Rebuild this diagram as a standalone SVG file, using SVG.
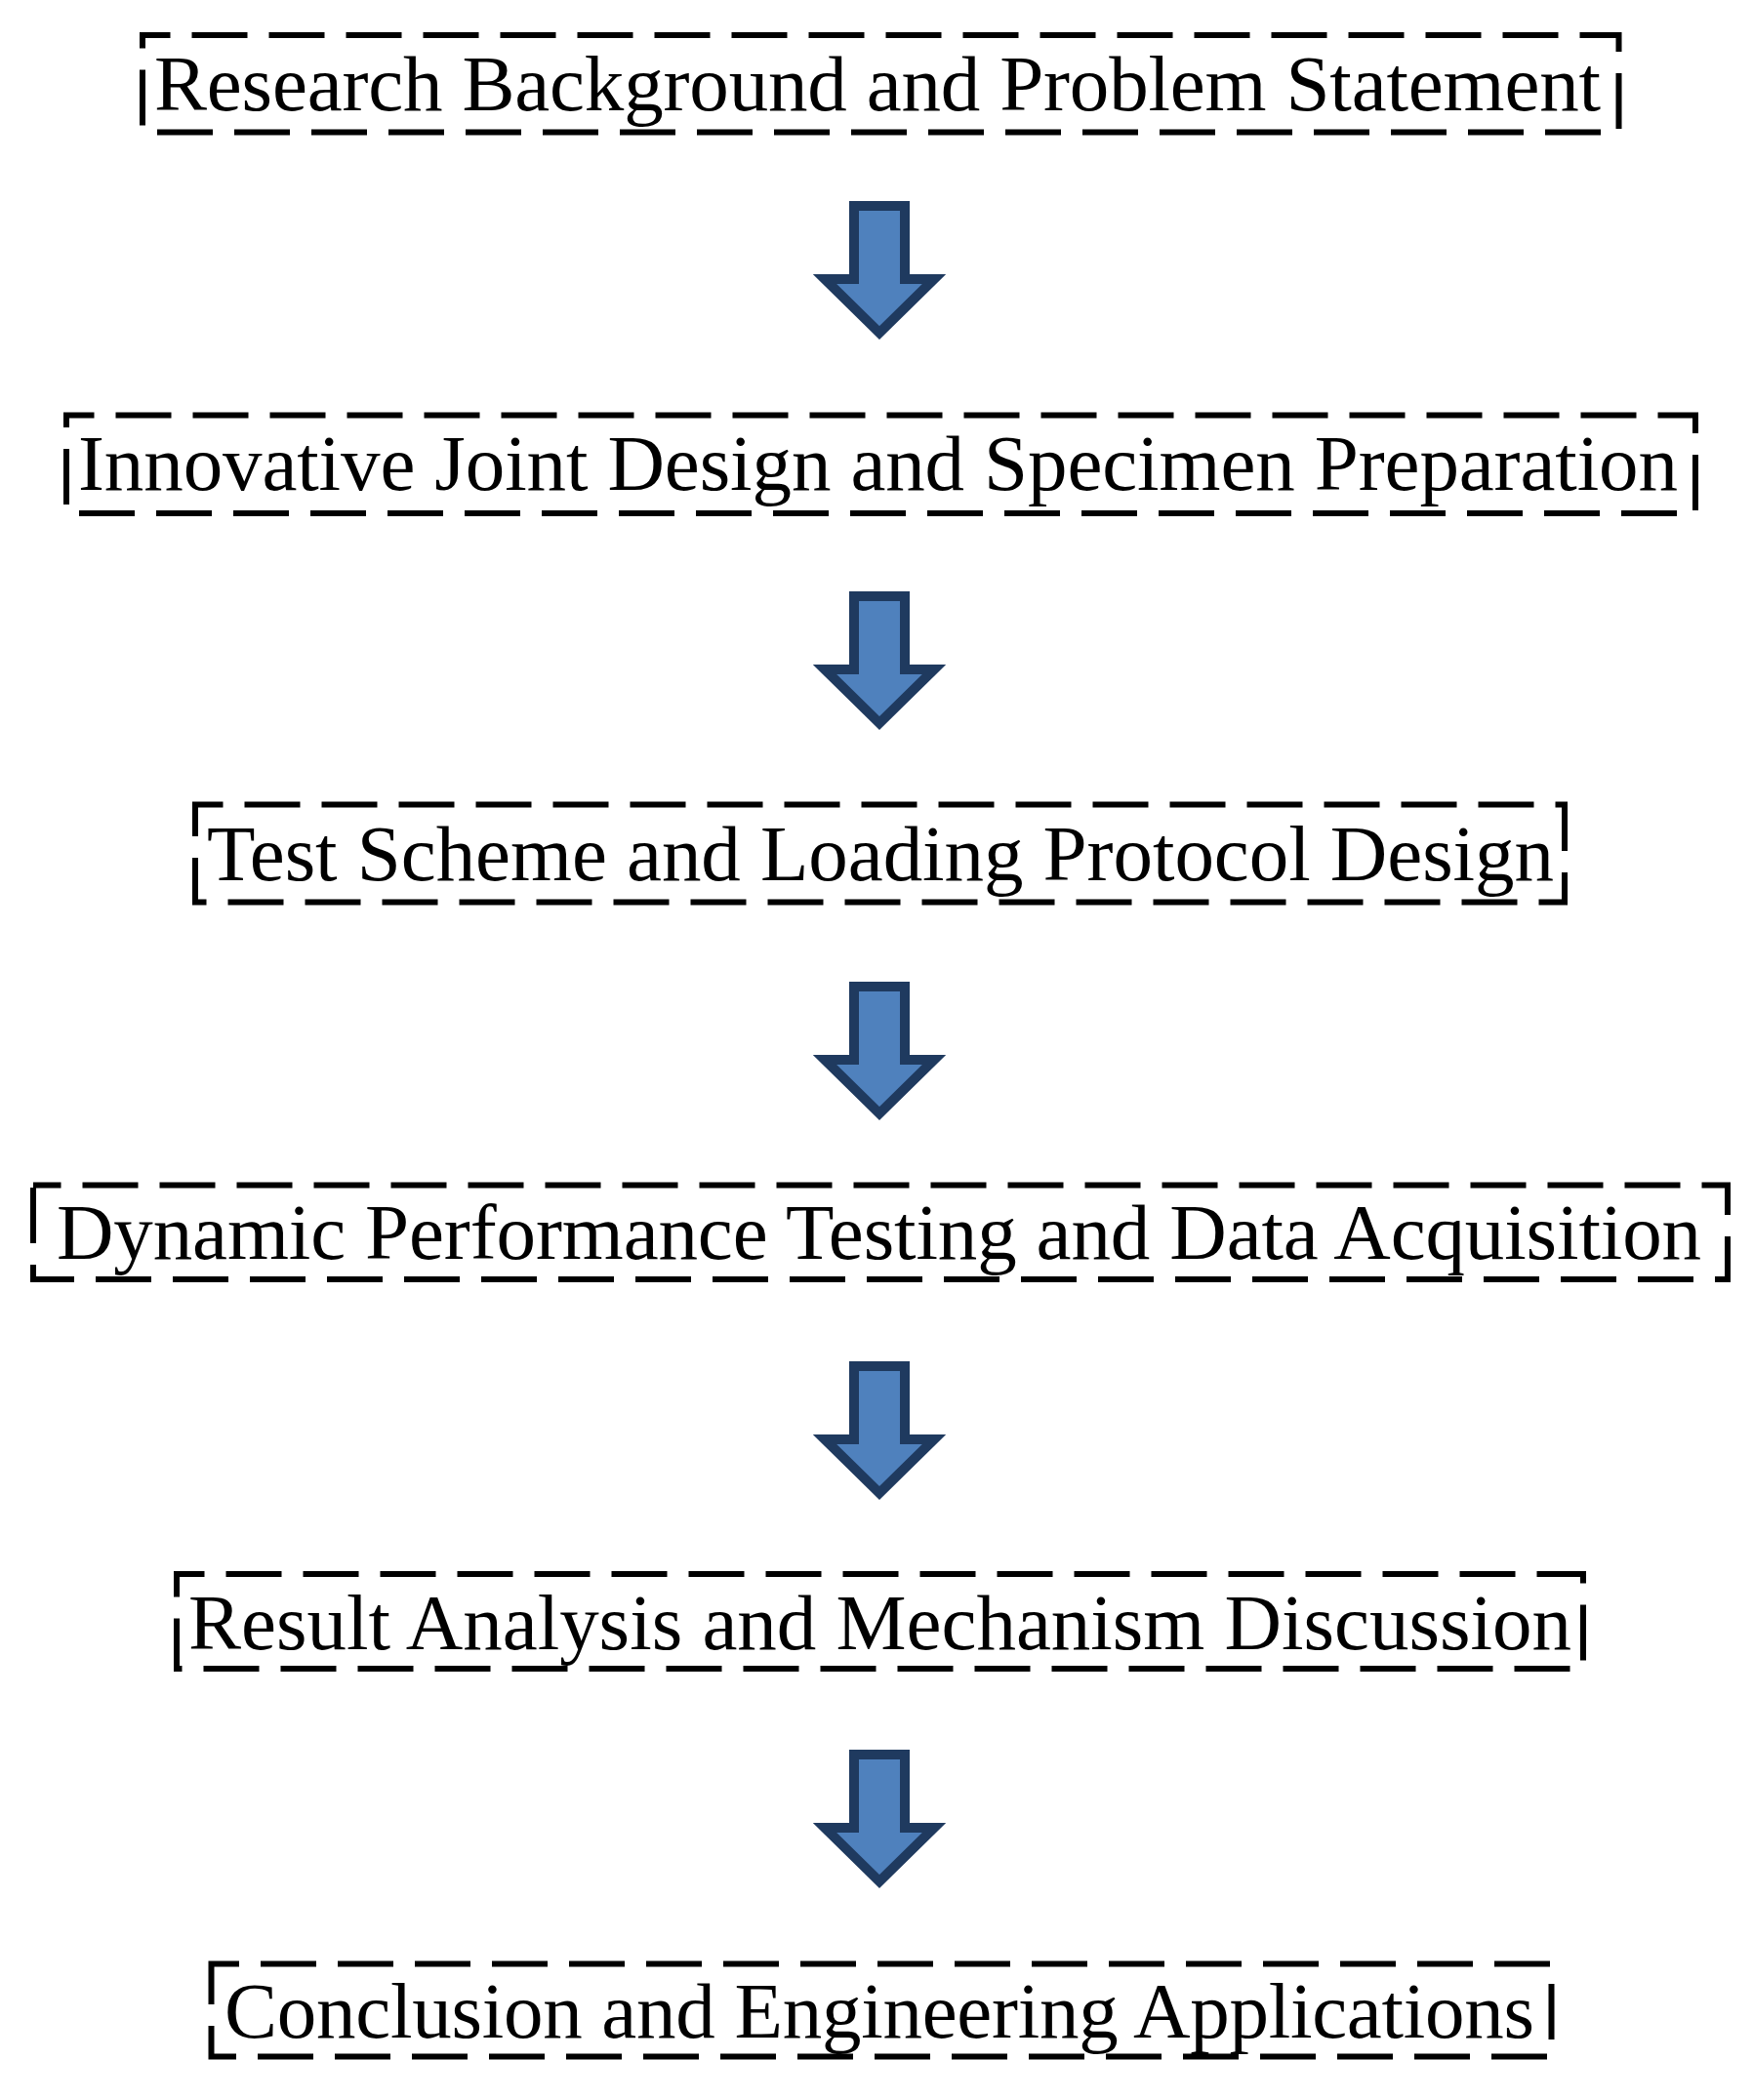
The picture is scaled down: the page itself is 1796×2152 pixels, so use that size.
<svg xmlns="http://www.w3.org/2000/svg" width="1796" height="2152" viewBox="0 0 1796 2152">
<style>
.box{fill:none;stroke:#000;stroke-width:6;stroke-dasharray:57 22;stroke-dashoffset:28.5}
.lbl{font-family:"Liberation Serif","Times New Roman",serif;font-size:81px;fill:#000}
.arr{fill:#4F81BD;stroke:#1F3A5F;stroke-width:10;stroke-linejoin:miter}
</style>
<defs>
<path id="arrow" class="arr" d="M875,5 H927 V80 H957 L901,135 L845,80 H875 Z"/>
</defs>
<rect width="1796" height="2152" fill="#fff"/>
<g id="node1">
<rect class="box" x="146" y="36" width="1512.5" height="99.5"/>
<text class="lbl" x="158" y="113" textLength="1482" lengthAdjust="spacing">Research Background and Problem Statement</text>
</g>
<g id="node2">
<rect class="box" x="68" y="425.5" width="1669" height="100.5"/>
<text class="lbl" x="80" y="502" textLength="1639" lengthAdjust="spacing">Innovative Joint Design and Specimen Preparation</text>
</g>
<g id="node3">
<rect class="box" x="200" y="824.5" width="1403" height="100"/>
<text class="lbl" x="212" y="902" textLength="1380" lengthAdjust="spacing">Test Scheme and Loading Protocol Design</text>
</g>
<g id="node4">
<rect class="box" x="34" y="1214.5" width="1736" height="96.5"/>
<text class="lbl" x="58" y="1290" textLength="1685" lengthAdjust="spacing">Dynamic Performance Testing and Data Acquisition</text>
</g>
<g id="node5">
<rect class="box" x="181" y="1613" width="1441" height="97"/>
<text class="lbl" x="193" y="1690" textLength="1417" lengthAdjust="spacing">Result Analysis and Mechanism Discussion</text>
</g>
<g id="node6">
<rect class="box" x="216.5" y="2012.5" width="1373" height="95"/>
<text class="lbl" x="230" y="2088" textLength="1342" lengthAdjust="spacing">Conclusion and Engineering Applications</text>
</g>
<g id="connectors">
<use href="#arrow" transform="translate(0,206)"/>
<use href="#arrow" transform="translate(0,606)"/>
<use href="#arrow" transform="translate(0,1006)"/>
<use href="#arrow" transform="translate(0,1395)"/>
<use href="#arrow" transform="translate(0,1793)"/>
</g>
</svg>
